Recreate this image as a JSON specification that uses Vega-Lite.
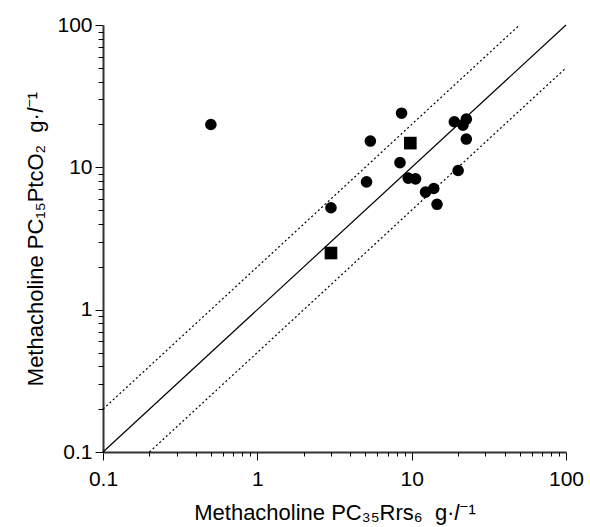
{
  "$schema": "https://vega.github.io/schema/vega-lite/v6.json",
  "width": 463,
  "height": 427,
  "autosize": "none",
  "padding": {"left": 103, "top": 25, "right": 24, "bottom": 75},
  "background": "white",
  "config": {
    "view": {"stroke": null},
    "font": "Liberation Sans",
    "axis": {
      "grid": false,
      "labelFont": "Liberation Sans",
      "labelFontSize": 21,
      "labelColor": "black",
      "titleFont": "Liberation Sans",
      "titleFontSize": 22,
      "titleFontWeight": "normal",
      "titleColor": "black",
      "tickColor": "black",
      "tickWidth": 1,
      "domainColor": "#333333",
      "domainWidth": 2
    }
  },
  "datasets": {
    "pts": [
      {"pc35rrs6": 0.5, "pc15ptco2": 20, "group": "circle"},
      {"pc35rrs6": 8.6, "pc15ptco2": 24, "group": "circle"},
      {"pc35rrs6": 5.4, "pc15ptco2": 15.3, "group": "circle"},
      {"pc35rrs6": 8.4, "pc15ptco2": 10.8, "group": "circle"},
      {"pc35rrs6": 5.1, "pc15ptco2": 7.9, "group": "circle"},
      {"pc35rrs6": 3.0, "pc15ptco2": 5.2, "group": "circle"},
      {"pc35rrs6": 9.5, "pc15ptco2": 8.4, "group": "circle"},
      {"pc35rrs6": 10.6, "pc15ptco2": 8.3, "group": "circle"},
      {"pc35rrs6": 12.3, "pc15ptco2": 6.7, "group": "circle"},
      {"pc35rrs6": 13.9, "pc15ptco2": 7.1, "group": "circle"},
      {"pc35rrs6": 14.6, "pc15ptco2": 5.5, "group": "circle"},
      {"pc35rrs6": 18.9, "pc15ptco2": 20.9, "group": "circle"},
      {"pc35rrs6": 22.6, "pc15ptco2": 21.8, "group": "circle"},
      {"pc35rrs6": 21.5, "pc15ptco2": 19.8, "group": "circle"},
      {"pc35rrs6": 22.6, "pc15ptco2": 15.8, "group": "circle"},
      {"pc35rrs6": 20.0, "pc15ptco2": 9.5, "group": "circle"},
      {"pc35rrs6": 9.8, "pc15ptco2": 14.8, "group": "square"},
      {"pc35rrs6": 3.0, "pc15ptco2": 2.5, "group": "square"}
    ],
    "identity": [
      {"pc35rrs6": 0.1, "pc15ptco2": 0.1},
      {"pc35rrs6": 100, "pc15ptco2": 100}
    ],
    "limits": [
      {"pc35rrs6": 0.1, "pc15ptco2": 0.2, "band": "upper"},
      {"pc35rrs6": 50, "pc15ptco2": 100, "band": "upper"},
      {"pc35rrs6": 0.2, "pc15ptco2": 0.1, "band": "lower"},
      {"pc35rrs6": 100, "pc15ptco2": 50, "band": "lower"}
    ]
  },
  "resolve": {"axis": {"x": "independent", "y": "independent"}},
  "layer": [
    {
      "data": {"name": "identity"},
      "mark": {"type": "line", "color": "black", "strokeWidth": 1.2},
      "encoding": {
        "x": {
          "field": "pc35rrs6", "type": "quantitative",
          "scale": {"type": "log", "domain": [0.1, 100], "nice": false},
          "axis": {
            "orient": "bottom",
            "values": [0.1, 1, 10, 100],
            "format": "~g",
            "tickSize": 8,
            "labelPadding": 8,
            "title": "Methacholine PC₃₅Rrs₆\u00a0 g·𝑙⁻¹",
            "titlePadding": 13,
            "labelFlush": false
          }
        },
        "y": {
          "field": "pc15ptco2", "type": "quantitative",
          "scale": {"type": "log", "domain": [0.1, 100], "nice": false},
          "axis": {
            "orient": "left",
            "values": [0.1, 1, 10, 100],
            "format": "~g",
            "tickSize": 8,
            "labelPadding": 3,
            "title": "Methacholine PC₁₅PtcO₂\u00a0 g·𝑙⁻¹",
            "titlePadding": 9,
            "labelFlush": false
          }
        }
      }
    },
    {
      "data": {"name": "limits"},
      "mark": {"type": "line", "color": "black", "strokeWidth": 1.2, "strokeDash": [2, 2.5]},
      "encoding": {
        "x": {
          "field": "pc35rrs6", "type": "quantitative",
          "scale": {"type": "log", "domain": [0.1, 100], "nice": false},
          "axis": {
            "orient": "bottom",
            "values": [0.2, 0.3, 0.4, 0.5, 0.6, 0.7, 0.8, 0.9, 2, 3, 4, 5, 6, 7, 8, 9, 20, 30, 40, 50, 60, 70, 80, 90],
            "labels": false,
            "domain": false,
            "tickSize": 4,
            "title": null
          }
        },
        "y": {
          "field": "pc15ptco2", "type": "quantitative",
          "scale": {"type": "log", "domain": [0.1, 100], "nice": false},
          "axis": {
            "orient": "left",
            "values": [0.2, 0.3, 0.4, 0.5, 0.6, 0.7, 0.8, 0.9, 2, 3, 4, 5, 6, 7, 8, 9, 20, 30, 40, 50, 60, 70, 80, 90],
            "labels": false,
            "domain": false,
            "tickSize": 5,
            "title": null
          }
        },
        "detail": {"field": "band", "type": "nominal"}
      }
    },
    {
      "data": {"name": "pts"},
      "mark": {"type": "point", "filled": true, "color": "black", "opacity": 1},
      "encoding": {
        "x": {
          "field": "pc35rrs6", "type": "quantitative",
          "scale": {"type": "log", "domain": [0.1, 100], "nice": false},
          "axis": null
        },
        "y": {
          "field": "pc15ptco2", "type": "quantitative",
          "scale": {"type": "log", "domain": [0.1, 100], "nice": false},
          "axis": null
        },
        "shape": {
          "field": "group", "type": "nominal",
          "scale": {"domain": ["circle", "square"], "range": ["circle", "square"]},
          "legend": null
        },
        "size": {
          "field": "group", "type": "nominal",
          "scale": {"domain": ["circle", "square"], "range": [135, 160]},
          "legend": null
        }
      }
    }
  ]
}
